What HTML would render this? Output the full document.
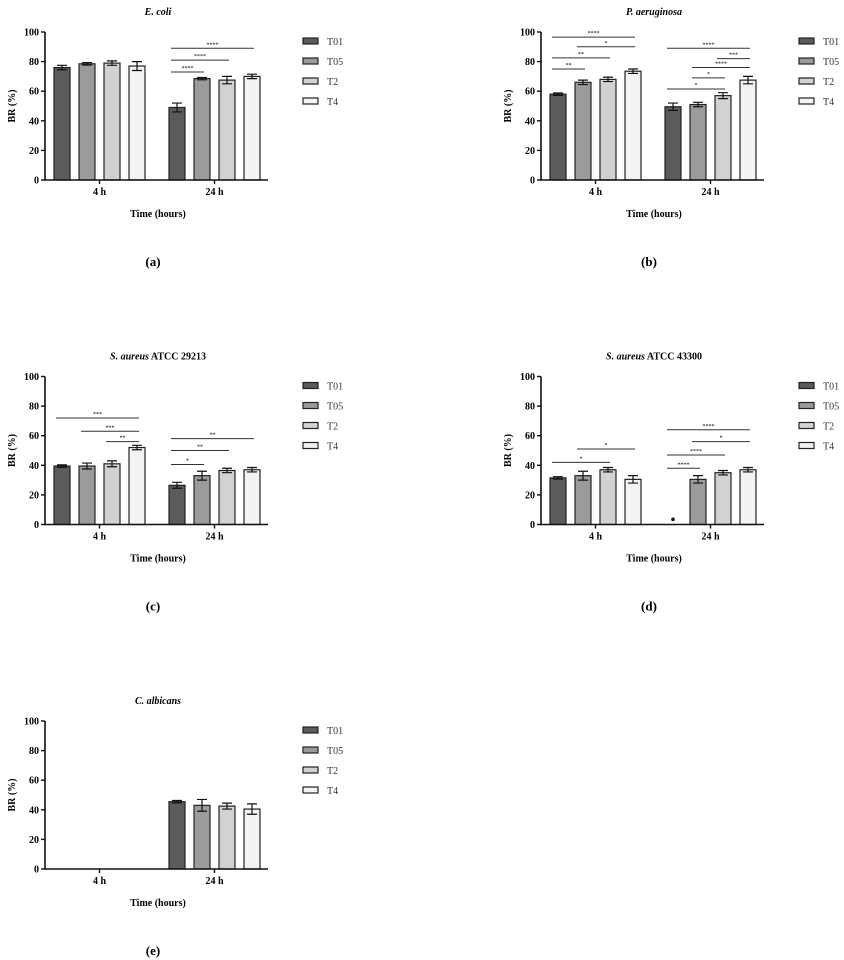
<!DOCTYPE html>
<html><head><meta charset="utf-8"><style>
html,body{margin:0;padding:0;background:#fff}
svg{display:block}
text{font-family:"Liberation Serif",serif}
</style></head><body>
<svg id="fig" width="844" height="960" viewBox="0 0 844 960" xmlns="http://www.w3.org/2000/svg"></svg>
<script>
// ---- data ----
const groups = ["4 h", "24 h"];
const seriesNames = ["T01", "T05", "T2", "T4"];
const yTicks = [0, 20, 40, 60, 80, 100];
const panelTitles = ["E. coli", "P. aeruginosa", "S. aureus ATCC 29213", "S. aureus ATCC 43300", "C. albicans"];
const panelCaptions = ["(a)", "(b)", "(c)", "(d)", "(e)"];
// values[panel][group][series]
const valuesA = [[76, 78.5, 79, 77], [49, 68.5, 67.5, 70]];
const errorsA = [[1.5, 0.8, 1.5, 3], [3, 0.8, 2.5, 1.5]];
const valuesB = [[58, 66, 68, 73.5], [49.5, 51, 57, 67.5]];
const errorsB = [[0.8, 1.5, 1.5, 1.5], [2.5, 1.5, 2, 2.5]];
const valuesC = [[39.5, 39.5, 41, 52], [26.5, 33, 36.5, 37]];
const errorsC = [[0.8, 2, 2, 1.5], [2, 3, 1.5, 1.5]];
const valuesD = [[31.5, 33, 37, 30.5], [0, 30.5, 35, 37]];
const errorsD = [[0.8, 3, 1.5, 2.5], [0, 2.5, 1.5, 1.5]];
const valuesE = [[0, 0, 0, 0], [45.5, 43, 42.5, 40.5]];
const errorsE = [[0, 0, 0, 0], [0.8, 4, 2, 3.5]];
// significance: [group, fromSeries, toSeries, yValue, label]
const sigA = [[1,0,1,73,"****"],[1,0,2,81,"****"],[1,0,3,89,"****"]];
const sigB = [[0,0,3,96.5,"****"],[0,1,3,90,"*"],[0,0,2,82.5,"**"],[0,0,1,75,"**"],
              [1,0,3,89,"****"],[1,2,3,82,"***"],[1,1,3,76,"****"],[1,1,2,69,"*"],[1,0,2,61.5,"*"]];
const sigC = [[0,0,3,72,"***"],[0,1,3,63,"***"],[0,2,3,56,"**"],
              [1,0,3,58,"**"],[1,0,2,50,"**"],[1,0,1,40.5,"*"]];
const sigD = [[0,0,2,42,"*"],[0,1,3,51,"*"],
              [1,0,3,64,"****"],[1,1,3,56,"*"],[1,0,2,47,"****"],[1,0,1,38,"****"]];
const sigE = [];
const dotD = [1, 0, 3.5]; // outlier dot in panel d: group, series, value

// ---- layout ----
const colors = ["#5b5b5b", "#9b9b9b", "#d2d2d2", "#f3f3f3"];
const panels = [
  {ox:45, oy:180, v:valuesA, e:errorsA, s:sigA},
  {ox:541, oy:180, v:valuesB, e:errorsB, s:sigB},
  {ox:45, oy:524.5, v:valuesC, e:errorsC, s:sigC},
  {ox:541, oy:524.5, v:valuesD, e:errorsD, s:sigD, dot:dotD},
  {ox:45, oy:869, v:valuesE, e:errorsE, s:sigE}
];
const NS = "http://www.w3.org/2000/svg";
const svg = document.getElementById("fig");
function mk(tag, attrs, parent, txt){
  const el = document.createElementNS(NS, tag);
  for (const k in attrs) el.setAttribute(k, attrs[k]);
  if (txt !== undefined) el.textContent = txt;
  parent.appendChild(el);
  return el;
}
const PX = 1.48, AXW = 223, BW = 16;
const groupStart = [17, 132], step = 25;

panels.forEach((p, pi) => {
  const g = mk("g", {}, svg);
  
  
  const y = v => p.oy - v * PX;
  const xc = (gi, si) => p.ox + groupStart[gi] + si * step;
  // title
  const t = mk("text", {x:p.ox+113, y:p.oy-165, "text-anchor":"middle", "font-size":"10", "font-weight":"bold", "font-style":"italic"}, g);
  if (pi >= 2 && pi <= 3) {
    mk("tspan", {}, t, "S. aureus");
    mk("tspan", {"font-style":"normal"}, t, panelTitles[pi].replace("S. aureus", ""));
  } else t.textContent = panelTitles[pi];
  
  
  // bars
  p.v.forEach((arr, gi) => arr.forEach((val, si) => {
    if (val <= 0) return;
    const r = mk("rect", {x:xc(gi,si)-BW/2, y:y(val), width:BW, height:val*PX, fill:colors[si], stroke:"#222", "stroke-width":"1.2"}, g);
    
    
    const er = p.e[gi][si];
    if (er > 0) {
      const cx = xc(gi,si);
      const eb = mk("path", {d:`M${cx},${y(val+er)}V${y(val-er)}M${cx-5},${y(val+er)}H${cx+5}M${cx-5},${y(val-er)}H${cx+5}`, stroke:"#111", "stroke-width":"1.2", fill:"none"}, g);
      
      
    }
  }));
  if (p.dot) {
    const d = mk("circle", {cx:xc(p.dot[0],p.dot[1]), cy:y(p.dot[2]), r:1.8, fill:"#111"}, g);
    
    
  }
  // significance
  p.s.forEach(s => {
    const x1 = xc(s[0], s[1]) - 6, x2 = xc(s[0], s[2]) + 2, yy = y(s[3]);
    const l = mk("line", {x1:x1, x2:x2, y1:yy, y2:yy, stroke:"#333", "stroke-width":"1"}, g);
    
    
    const st = mk("text", {x:(x1+x2)/2, y:yy-2, "text-anchor":"middle", "font-size":"6"}, g, s[4]);
    
    
  });
  // axes
  const ax = mk("path", {d:`M${p.ox},${y(100)}V${p.oy}H${p.ox+AXW}`, stroke:"#111", "stroke-width":"1.6", fill:"none"}, g);
  
  
  yTicks.forEach(tv => {
    mk("line", {x1:p.ox-4, x2:p.ox, y1:y(tv), y2:y(tv), stroke:"#111", "stroke-width":"1.4"}, g);
    const tl = mk("text", {x:p.ox-6, y:y(tv)+3.5, "text-anchor":"end", "font-size":"10", "font-weight":"bold"}, g, tv);
    
    
  });
  groups.forEach((gn, gi) => {
    const gx = xc(gi, 1.5);
    mk("line", {x1:gx, x2:gx, y1:p.oy, y2:p.oy+4, stroke:"#111", "stroke-width":"1.4"}, g);
    const xl = mk("text", {x:gx, y:p.oy+15, "text-anchor":"middle", "font-size":"10", "font-weight":"bold"}, g, gn);
    
    
  });
  const yt = mk("text", {transform:`translate(${p.ox-30},${y(50)}) rotate(-90)`, "text-anchor":"middle", "font-size":"10", "font-weight":"bold"}, g, "BR (%)");
  
  
  const xt = mk("text", {x:p.ox+113, y:p.oy+37, "text-anchor":"middle", "font-size":"10", "font-weight":"bold"}, g, "Time (hours)");
  
  
  const cap = mk("text", {x:p.ox+108, y:p.oy+86, "text-anchor":"middle", "font-size":"13", "font-weight":"bold"}, g, panelCaptions[pi]);
  
  
  // legend
  seriesNames.forEach((sn, si) => {
    const ly = p.oy - 139 + si * 20;
    const sw = mk("rect", {x:p.ox+258, y:ly-3, width:15, height:6, fill:colors[si], stroke:"#222", "stroke-width":"1.2"}, g);
    
    
    const lt = mk("text", {x:p.ox+282, y:ly+4, "font-size":"10", fill:"#333"}, g, sn);
    
    
  });
});
</script>
</body></html>
